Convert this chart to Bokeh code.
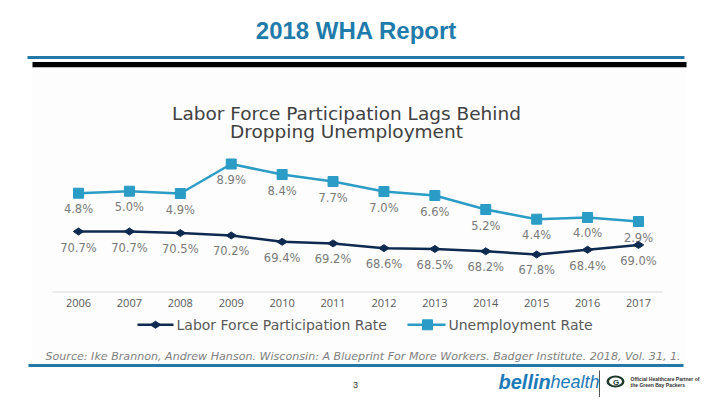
import math
from bokeh.plotting import figure
from bokeh.models import Range1d
from bokeh.core.properties import value
from bokeh.embed import file_html
from bokeh.resources import INLINE

# ---------------- data ----------------
years = [2006, 2007, 2008, 2009, 2010, 2011, 2012, 2013, 2014, 2015, 2016, 2017]
year_labels = [str(y) for y in years]
labor_rate = [70.7, 70.7, 70.5, 70.2, 69.4, 69.2, 68.6, 68.5, 68.2, 67.8, 68.4, 69.0]
unemp_rate = [4.8, 5.0, 4.9, 8.9, 8.4, 7.7, 7.0, 6.6, 5.2, 4.4, 4.0, 2.9]
# heights at which the reference draws the unemployment markers (they do not
# follow its own labels); read off the picture on the line's hidden scale
unemp_drawn = [5.85, 6.06, 5.82, 8.9, 7.80, 7.07, 6.03, 5.61, 4.15, 3.14, 3.32, 2.9]
series_names = ["Labor Force Participation Rate", "Unemployment Rate"]

NAVY = "#0f2a50"
TEAL = "#2b9cc6"
SLIDE_BLUE = "#1f7bab"
LABEL_GRAY = "#7a7a7a"
TEXT_GRAY = "#595959"

W, H = 712, 397
M = 0  # default ranges are picture pixels

p = figure(width=W, height=H, output_backend="svg", toolbar_location=None,
           x_range=Range1d(M, M + W), y_range=Range1d(M + H, M),
           x_axis_type=None, y_axis_type=None, min_border=0,
           outline_line_color=None, background_fill_color="white",
           border_fill_color="white")

# hidden scales of the embedded chart
X2006, X2017 = 78.0, 638.0
ppy = (X2017 - X2006) / (years[-1] - years[0])
p.extra_x_ranges = {"yr": Range1d(years[0] - (X2006 - M) / ppy,
                                  years[-1] + (M + W - X2017) / ppy)}
LF_ANCHOR_Y, LF_PPU = 231.0, 7.93
UN_ANCHOR_Y, UN_PPU = 221.0, 9.583
p.extra_y_ranges = {
    "lfpr": Range1d(labor_rate[0] - (M + H - LF_ANCHOR_Y) / LF_PPU,
                    labor_rate[0] + (LF_ANCHOR_Y - M) / LF_PPU),
    "unemp": Range1d(unemp_rate[-1] - (M + H - UN_ANCHOR_Y) / UN_PPU,
                     unemp_rate[-1] + (UN_ANCHOR_Y - M) / UN_PPU),
}

# ---------------- slide decorations ----------------
p.text(x=[356], y=[30], text=["2018 WHA Report"], text_font=value("Liberation Sans"),
       text_font_style="bold", text_font_size="24px", text_color=SLIDE_BLUE,
       text_align="center", text_baseline="middle")
p.quad(left=[27], right=[684], top=[55.5], bottom=[58.5], fill_color="#2478a8", line_color=None)
p.quad(left=[32], right=[686], top=[61.5], bottom=[67], fill_color="black", line_color=None)
p.quad(left=[32], right=[686], top=[67], bottom=[362], fill_color="#fdfdfd", line_color=None)
p.quad(left=[28], right=[683], top=[363.5], bottom=[366.5], fill_color="#2478a8", line_color=None)

# chart title
p.text(x=[346, 346], y=[112.5, 131],
       text=["Labor Force Participation Lags Behind", "Dropping Unemployment"],
       text_font=value("DejaVu Sans"), text_font_size="18.5px", text_color="#404040",
       text_align="center", text_baseline="middle")

# ---------------- series ----------------
p.line(years, unemp_drawn, x_range_name="yr", y_range_name="unemp",
       line_color=TEAL, line_width=2.5)
p.scatter(years, unemp_drawn, x_range_name="yr", y_range_name="unemp",
          marker="square", size=10, fill_color=TEAL, line_color=TEAL)
p.text(years, unemp_drawn, text=[f"{v:.1f}%" for v in unemp_rate],
       x_range_name="yr", y_range_name="unemp", y_offset=16,
       text_font=value("DejaVu Sans"), text_font_size="11.5px", text_color=LABEL_GRAY,
       text_align="center", text_baseline="middle")

p.line(years, labor_rate, x_range_name="yr", y_range_name="lfpr",
       line_color=NAVY, line_width=2.5)
p.scatter(years, labor_rate, x_range_name="yr", y_range_name="lfpr",
          marker="diamond", size=10.5, angle=math.pi / 2, fill_color=NAVY, line_color=NAVY)
p.text(years, labor_rate, text=[f"{v:.1f}%" for v in labor_rate],
       x_range_name="yr", y_range_name="lfpr", y_offset=16,
       text_font=value("DejaVu Sans"), text_font_size="11.5px", text_color=LABEL_GRAY,
       text_align="center", text_baseline="middle")

# category axis
p.segment(x0=[52], y0=[291.5], x1=[662], y1=[291.5], line_color="#d9d9d9", line_width=1)
p.text(years, [302.7] * len(years), text=year_labels, x_range_name="yr",
       text_font=value("Open Sans"), text_font_size="11px", text_color=TEXT_GRAY,
       text_align="center", text_baseline="middle")

# legend
LY = 324.3
p.segment(x0=[137], y0=[LY], x1=[173], y1=[LY], line_color=NAVY, line_width=2.5)
p.scatter([155], [LY], marker="diamond", size=10.5, angle=math.pi / 2,
          fill_color=NAVY, line_color=NAVY)
p.segment(x0=[407], y0=[LY], x1=[445], y1=[LY], line_color=TEAL, line_width=2.5)
p.scatter([427], [LY], marker="square", size=10, fill_color=TEAL, line_color=TEAL)
p.text(x=[176, 448], y=[LY, LY], text=series_names, text_font=value("DejaVu Sans"),
       text_font_size="14px", text_color=TEXT_GRAY, text_align="left",
       text_baseline="middle")

# source
p.text(x=[45], y=[355.5],
       text=["Source:  Ike Brannon, Andrew Hanson. Wisconsin: A Blueprint For More Workers. "
             "Badger Institute. 2018, Vol. 31, 1."],
       text_font=value("DejaVu Sans"), text_font_style="italic", text_font_size="11.1px",
       text_color="#7f7f7f", text_align="left", text_baseline="middle")

# footer
p.text(x=[355], y=[384], text=["3"], text_font=value("Liberation Sans"),
       text_font_size="9px", text_color="#333333", text_align="center",
       text_baseline="middle")
p.text(x=[498], y=[381], text=["bellin"], text_font=value("Liberation Sans"),
       text_font_style="bold italic", text_font_size="20px", text_color="#1c7ab8",
       text_align="left", text_baseline="middle")
p.text(x=[550], y=[381], text=["health"], text_font=value("Liberation Sans"),
       text_font_style="italic", text_font_size="18px", text_color="#1c7ab8",
       text_align="left", text_baseline="middle")
p.segment(x0=[599], y0=[370], x1=[599], y1=[397], line_color="#555555", line_width=1)
p.ellipse(x=[615], y=[381], width=18, height=12, fill_color="#1d3a2c", line_color=None)
p.ellipse(x=[615], y=[381], width=13, height=8, fill_color="white", line_color=None)
p.text(x=[615.5], y=[381.5], text=["G"], text_font=value("Liberation Sans"),
       text_font_style="bold", text_font_size="8px", text_color="#1d3a2c",
       text_align="center", text_baseline="middle")
p.text(x=[630, 630], y=[378.5, 384.5],
       text=["Official Healthcare Partner of", "the Green Bay Packers"],
       text_font=value("Liberation Sans"), text_font_style="bold",
       text_font_size="5px", text_color="#333333", text_align="left",
       text_baseline="middle")

open("out.html", "w").write(file_html(p, INLINE))
